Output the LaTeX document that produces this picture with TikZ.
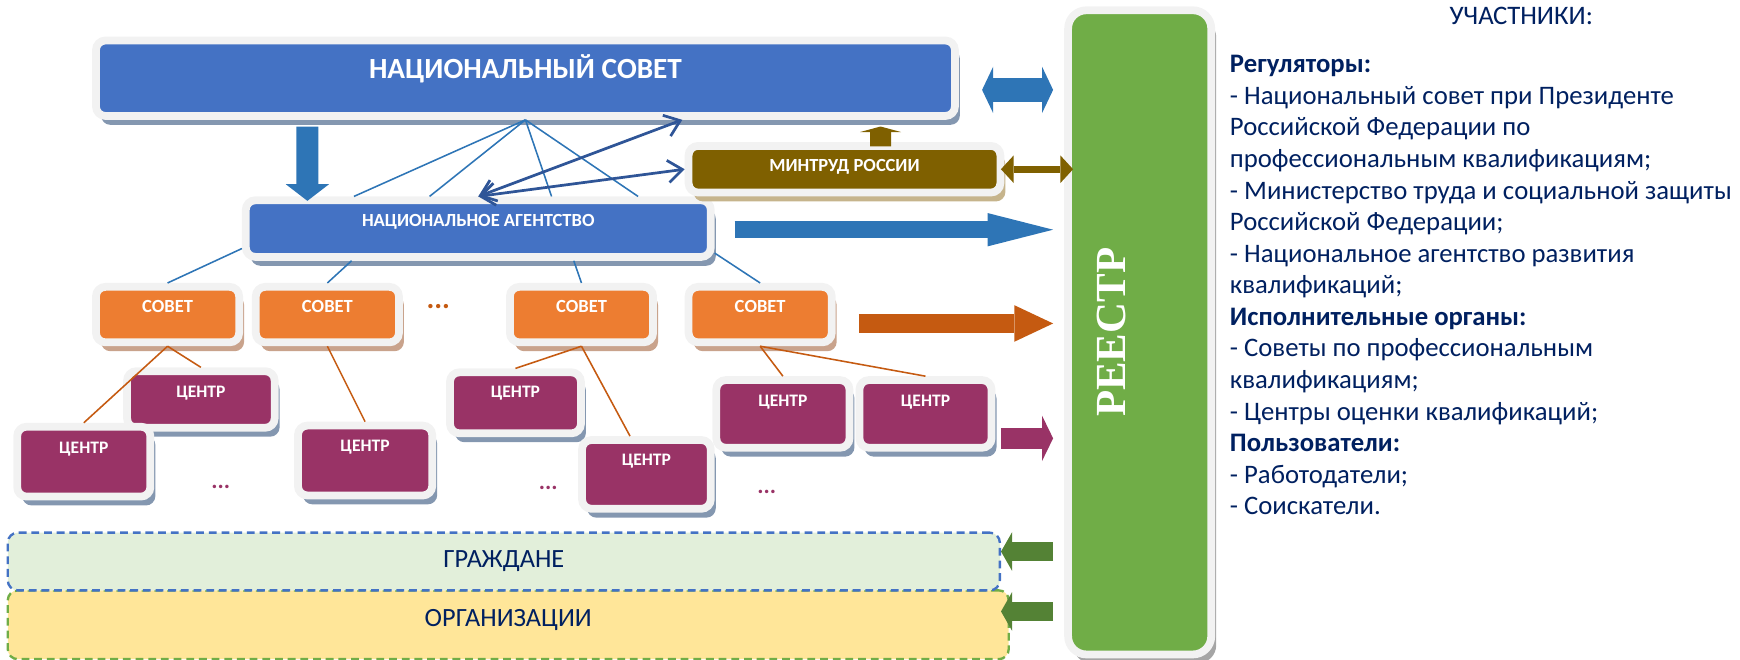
\documentclass[tikz,border=0pt]{standalone}
\usepackage{fontspec}
\setmainfont{Carlito}
\newfontfamily\regserif{Liberation Serif}
\usetikzlibrary{arrows.meta,shadows,calc}

\definecolor{frame}{HTML}{F2F2F2}
\definecolor{nblue}{HTML}{4472C4}
\definecolor{shblue}{HTML}{8497B0}
\definecolor{norange}{HTML}{ED7D31}
\definecolor{shorange}{HTML}{C9A38C}
\definecolor{npurple}{HTML}{993366}
\definecolor{nbrown}{HTML}{7F6000}
\definecolor{shbrown}{HTML}{C6B48C}
\definecolor{ngreen}{HTML}{70AD47}
\definecolor{shgreen}{HTML}{A5A5A5}
\definecolor{ablue}{HTML}{2E75B6}
\definecolor{dblue}{HTML}{2F5597}
\definecolor{aorange}{HTML}{C55A11}
\definecolor{agreen}{HTML}{548235}
\definecolor{navy}{HTML}{002060}
\definecolor{lgreen}{HTML}{E2EFDA}
\definecolor{lyellow}{HTML}{FFE699}

\tikzset{
  box/.style 2 args={rectangle, rounded corners=0.17cm, fill=#1, draw=frame,
    line width=0.14cm, inner sep=0pt, text=white,
    drop shadow={shadow xshift=0.09cm, shadow yshift=-0.16cm, opacity=1, fill=#2}},
  lbl/.style={font=\bfseries\fontsize{9.5}{11}\selectfont, text height=0.215cm},
  sovet/.style={box={norange}{shorange}, lbl, minimum width=2.58cm,
    minimum height=1cm, text depth=0.28cm},
  centr/.style={box={npurple}{shblue}, lbl, font=\bfseries\fontsize{9}{11}\selectfont},
  grp/.style 2 args={rectangle, rounded corners=0.18cm, draw=#1, fill=#2,
    line width=1.2pt, dash pattern=on 4pt off 2.5pt, inner sep=0pt, text=navy,
    font=\fontsize{13.5}{16}\selectfont, text height=0.31cm},
  thinblue/.style={draw=ablue, line width=0.8pt},
  thinorange/.style={draw=aorange, line width=0.8pt},
  duo/.style={draw=dblue, line width=1.4pt,
    {Straight Barb[length=0.26cm,width=0.4cm]}-{Straight Barb[length=0.26cm,width=0.4cm]}},
  fat/.style n args={4}{draw=#1, line width=#2,
    -{Triangle[length=#3,width=#4,line width=0pt]}},
  fatboth/.style n args={4}{draw=#1, line width=#2,
    {Triangle[length=#3,width=#4,line width=0pt]}-{Triangle[length=#3,width=#4,line width=0pt]}},
  ellip/.style={font=\bfseries\fontsize{15}{15}\selectfont, inner sep=0pt},
  info/.style={text=navy, font=\fontsize{13.7}{16.2}\selectfont, inner sep=0pt}
}

\begin{document}
\begin{tikzpicture}
\useasboundingbox (0,0) rectangle (31.36,-11.895);

% regulators
\node[box={nblue}{shblue}, minimum width=15.48cm, minimum height=1.36cm,
  font=\bfseries\fontsize{15}{18}\selectfont, text height=0.34cm, text depth=0.34cm]
  (nc) at (9.47,-1.41) {НАЦИОНАЛЬНЫЙ СОВЕТ};
\node[box={nblue}{shblue}, lbl, minimum width=8.38cm, minimum height=1.02cm, text depth=0.28cm]
  (na) at (8.62,-4.12) {НАЦИОНАЛЬНОЕ АГЕНТСТВО};
\node[box={nbrown}{shbrown}, lbl, minimum width=5.62cm, minimum height=0.84cm, text depth=0.14cm]
  (mt) at (15.22,-3.05) {МИНТРУД РОССИИ};

% register
\node[box={ngreen}{shgreen}, rounded corners=0.33cm, minimum width=2.58cm, minimum height=11.61cm]
  (reestr) at (20.54,-5.99) {};
\node[text=white, rotate=90, font=\regserif\bfseries\fontsize{22}{22}\selectfont, inner sep=0pt]
  (rtxt) at (20.03,-5.99) {РЕЕСТР};

% councils and centres
\foreach \n/\x in {s1/3.02,s2/5.90,s3/10.48,s4/13.70}
  \node[sovet] (\n) at (\x,-5.67) {СОВЕТ};
\foreach \n/\x/\y/\cw/\ch/\cd in {c1/3.62/-7.20/2.66/1.02/0.29, c2/1.51/-8.32/2.40/1.26/0.52,
    c3/6.58/-8.30/2.42/1.26/0.55, c4/9.29/-7.26/2.36/1.10/0.41, c5/11.65/-8.55/2.32/1.24/0.52,
    c6/14.11/-7.46/2.40/1.22/0.48, c7/16.68/-7.46/2.38/1.22/0.48}
  \node[centr, minimum width=\cw cm, minimum height=\ch cm, text depth=\cd cm] (\n) at (\x,\y) {ЦЕНТР};

\node[ellip, text=aorange] (sdots) at (7.90,-5.52) {...};
\foreach \n/\x/\y in {d1/3.98/-8.78, d2/9.88/-8.80, d3/13.82/-8.86}
  \node[ellip, text=npurple, font=\bfseries\fontsize{12}{12}\selectfont] (\n) at (\x,\y) {...};

% users
\node[grp={ngreen}{lyellow}, minimum width=18.04cm, minimum height=1.24cm, text depth=0.24cm]
  (org) at (9.16,-11.26) {ОРГАНИЗАЦИИ};
\node[grp={nblue}{lgreen}, minimum width=17.88cm, minimum height=1.04cm, text depth=0.08cm]
  (gr) at (9.08,-10.12) {ГРАЖДАНЕ};

% participants
\node[info, anchor=base west] (uch) at (26.12,-0.45) {УЧАСТНИКИ:};
\node[info, anchor=north west, align=left] (list) at (22.16,-0.99) {\textbf{Регуляторы:}\\
- Национальный совет при Президенте\\
Российской Федерации по\\
профессиональным квалификациям;\\
- Министерство труда и социальной защиты\\
Российской Федерации;\\
- Национальное агентство развития\\
квалификаций;\\
\textbf{Исполнительные органы:}\\
- Советы по профессиональным\\
квалификациям;\\
- Центры оценки квалификаций;\\
\textbf{Пользователи:}\\
- Работодатели;\\
- Соискатели.};

% thin links
\foreach \f in {0.237,0.397,0.655,0.838}
  \draw[thinblue] (nc.south) -- ($(na.north west)!\f!(na.north east)$);
\draw[thinblue] ($(na.south west)!0.19!(na.north west)$) -- (s1.north);
\draw[thinblue] ($(na.south west)!0.232!(na.south east)$) -- (s2.north);
\draw[thinblue] ($(na.south west)!0.702!(na.south east)$) -- (s3.north);
\draw[thinblue] ($(na.south east)!0.12!(na.north east)$) -- (s4.north);
\draw[duo] (na.north) -- ($(nc.south west)!0.681!(nc.south east)$);
\draw[duo] (na.north) -- (mt.west);
\foreach \a/\b in {s1/c1,s1/c2,s2/c3,s3/c4,s4/c6,s4/c7}
  \draw[thinorange] (\a.south) -- (\b.north);
\draw[thinorange] (s3.south) -- ($(c5.north west)!0.38!(c5.north east)$);

% block arrows
\draw[fat={ablue}{0.4cm}{0.3cm}{0.78cm}] ($(nc.south)+(-3.93,-0.12)$) -- ($(na.north)+(-3.08,-0.08)$);
\draw[fat={nbrown}{0.38cm}{0.1cm}{0.74cm}] ($(mt.north)+(0.65,-0.08)$) -- ($(nc.south)+(6.4,-0.12)$);
\draw[fatboth={ablue}{0.44cm}{0.2cm}{0.84cm}] ($(nc.east)+(0.42,-0.21)$) -- ($(reestr.west |- nc.east)+(-0.2,-0.21)$);
\draw[fatboth={nbrown}{0.12cm}{0.23cm}{0.5cm}] ($(mt.east)+(-0.06,0)$) -- ($(reestr.west |- mt.east)+(0.16,0)$);
\draw[fat={ablue}{0.3cm}{1.18cm}{0.6cm}] ($(na.east)+(0.36,-0.02)$) -- ($(reestr.west |- na.east)+(-0.2,-0.02)$);
\draw[fat={aorange}{0.34cm}{0.7cm}{0.66cm}] ($(s4.east)+(0.42,-0.16)$) -- ($(reestr.west |- s4.east)+(-0.2,-0.16)$);
\draw[fat={npurple}{0.38cm}{0.2cm}{0.82cm}] ($(c7.east)+(0.1,-0.44)$) -- ($(reestr.west |- c7.east)+(-0.2,-0.44)$);
\draw[fat={agreen}{0.34cm}{0.2cm}{0.7cm}] ($(reestr.west |- gr.east)+(-0.2,0.18)$) -- ($(gr.east)+(0,0.18)$);
\draw[fat={agreen}{0.34cm}{0.2cm}{0.7cm}] ($(reestr.west |- org.east)+(-0.2,0.24)$) -- ($(org.east)+(-0.16,0.24)$);
\end{tikzpicture}
\end{document}
